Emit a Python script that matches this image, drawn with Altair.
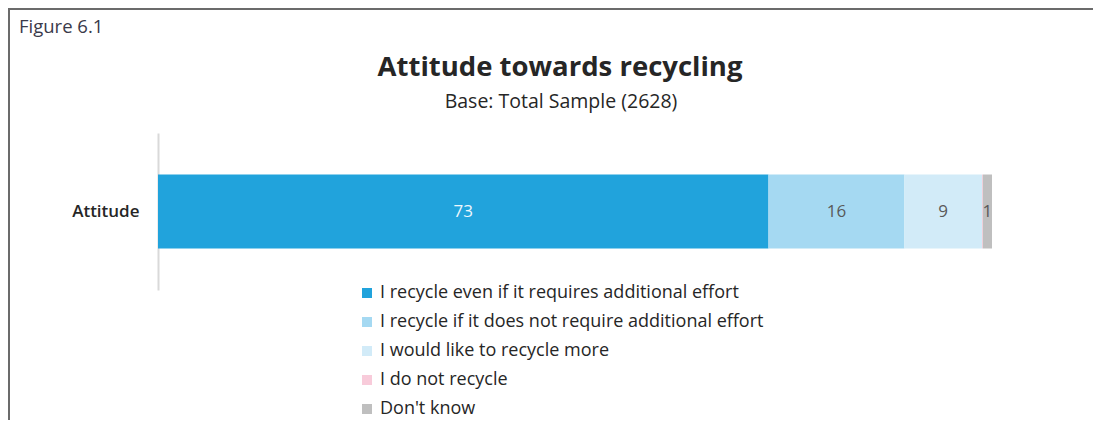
import altair as alt
import pandas as pd

categories = [
    "I recycle even if it requires additional effort",
    "I recycle if it does not require additional effort",
    "I would like to recycle more",
    "I do not recycle",
    "Don't know",
]
values = [73.2, 16.3, 9.3, 0.1, 1.1]
labels = ["73", "16", "9", "", "1"]
colors = ["#21A3DC", "#A5D9F2", "#D2EBF8", "#F8CBDA", "#BFBFBF"]
row_name = "Attitude"
title_text = "Attitude towards recycling"
subtitle_text = "Base: Total Sample (2628)"
figure_text = "Figure 6.1"

df = pd.DataFrame({
    "row": [row_name] * len(categories),
    "category": categories,
    "value": values,
    "label": labels,
    "order": list(range(len(categories))),
})

FONT = "Open Sans"

base = alt.Chart(df).transform_stack(
    stack="value", as_=["x0", "x1"], groupby=["row"], sort=[alt.SortField("order")]
).transform_calculate(mid="(datum.x0 + datum.x1) / 2")

xscale = alt.Scale(domain=[0, 100], nice=False, zero=True)

bars = base.mark_bar(size=74).encode(
    x=alt.X("x0:Q", scale=xscale, axis=None),
    x2="x1:Q",
    y=alt.Y("row:N", title=None, axis=alt.Axis(
        ticks=False, domainColor="#d9d9d9", domainWidth=2, labelPadding=19,
        labelFontSize=17, labelFontWeight=600, labelColor="#262626", labelFont=FONT)),
    color=alt.Color("category:N", scale=alt.Scale(domain=categories, range=colors),
                    legend=alt.Legend(title=None, orient="none", legendX=200, legendY=151,
                                      symbolType="square", symbolSize=100, symbolStrokeWidth=0,
                                      labelFontSize=18, labelFont=FONT, labelColor="#262626",
                                      rowPadding=11, padding=0, labelOffset=4, labelLimit=0)),
)

text = base.mark_text(fontSize=17, font=FONT, baseline="middle", align="center").encode(
    x=alt.X("mid:Q", scale=xscale, axis=None),
    y=alt.Y("row:N"),
    text="label:N",
    color=alt.condition("datum.order == 0", alt.value("#EEF7FC"), alt.value("#595959")),
)

one = pd.DataFrame({"k": [0]})
top_border = alt.Chart(one).mark_rule(color="#6b6b6b", strokeWidth=2).encode(
    x=alt.value(-150), x2=alt.value(935), y=alt.value(-124))
left_border = alt.Chart(one).mark_rule(color="#6b6b6b", strokeWidth=2).encode(
    x=alt.value(-149), y=alt.value(-125), y2=alt.value(290))
fig_label = alt.Chart(one).mark_text(align="left", baseline="alphabetic", fontSize=18.5,
                                     font=FONT, color="#3a3a4a").encode(
    x=alt.value(-139), y=alt.value(-100), text=alt.value(figure_text))
title = alt.Chart(one).mark_text(align="center", baseline="alphabetic", fontSize=27.5,
                                 fontWeight="bold", font=FONT, color="#262626").encode(
    x=alt.value(402), y=alt.value(-57), text=alt.value(title_text))
subtitle = alt.Chart(one).mark_text(align="center", baseline="alphabetic", fontSize=19.5,
                                    font=FONT, color="#262626").encode(
    x=alt.value(403), y=alt.value(-25), text=alt.value(subtitle_text))

chart = alt.layer(bars, text, top_border, left_border, fig_label, title, subtitle).properties(
    width=834, height=157,
    autosize=alt.AutoSizeParams(type="none"),
    padding={"left": 150, "top": 125, "right": 101, "bottom": 130},
    background="white",
).configure_view(stroke=None)

chart.save("out.html", embed_options={"renderer": "svg", "actions": False})
